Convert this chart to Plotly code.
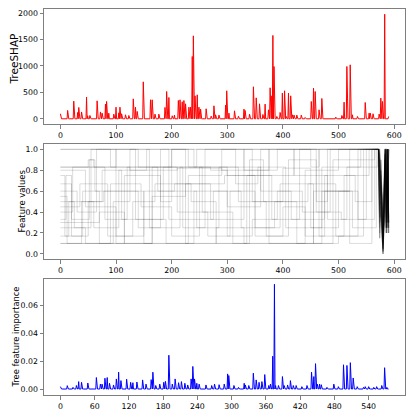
import numpy as np
import plotly.graph_objects as go
from plotly.subplots import make_subplots

# TreeSHAP per sample (zero except at the spikes)
n_shap = 591
shap_idx = [0, 13, 24, 31, 33, 38, 47, 49, 53, 66, 72, 75, 81, 83, 87, 96, 100, 105, 107, 110,
            117, 123, 131, 135, 138, 149, 162, 165, 170, 177, 188, 191, 195, 201, 205, 212, 215,
            219, 222, 225, 231, 234, 237, 239, 242, 246, 249, 252, 262, 271, 276, 279, 285, 297,
            299, 303, 313, 320, 330, 332, 340, 347, 352, 358, 364, 368, 374, 377, 380, 382, 384,
            389, 395, 399, 403, 406, 410, 414, 417, 420, 425, 433, 440, 451, 455, 458, 465, 470,
            495, 506, 510, 515, 521, 525, 534, 548, 555, 557, 562, 573, 576, 579, 583, 590]
shap_val = [95, 158, 334, 120, 215, 130, 410, 57, 63, 340, 130, 107, 278, 328, 107, 88, 220, 113, 220, 95,
            76, 63, 378, 220, 140, 700, 360, 360, 88, 88, 215, 517, 404, 57, 70, 347, 360,
            322, 347, 284, 220, 220, 1180, 1571, 435, 454, 220, 183, 190, 50, 246, 76, 70, 259,
            530, 107, 151, 50, 183, 158, 88, 606, 397, 284, 82, 278, 170, 587, 435, 1578, 990,
            44, 120, 486, 530, 44, 486, 435, 76, 70, 70, 70, 25, 328, 580, 517, 170, 385,
            32, 63, 315, 990, 1022, 76, 44, 309, 107, 107, 95, 88, 391, 328, 1980, 44]

# tree feature importance per feature
n_imp = 576
imp_base = 0.0005
imp_idx = [0, 12, 22, 28, 32, 37, 48, 63, 70, 73, 78, 82, 86, 93, 98, 102, 106, 116, 123, 127,
           134, 144, 150, 159, 162, 167, 174, 181, 184, 190, 196, 201, 207, 212, 218, 223, 229,
           232, 235, 239, 243, 255, 265, 270, 278, 287, 293, 295, 304, 312, 322, 324, 330, 338,
           343, 348, 353, 358, 365, 368, 372, 375, 377, 382, 389, 392, 398, 403, 408, 413, 423,
           432, 440, 444, 447, 450, 454, 457, 467, 479, 487, 496, 502, 508, 513, 520, 531, 534,
           540, 549, 554, 563, 568, 572]
imp_val = [0.0022, 0.0029, 0.0017, 0.003, 0.0058, 0.0053, 0.0048, 0.0087, 0.004, 0.004, 0.0082, 0.0087,
           0.0046, 0.0034, 0.0077, 0.0125, 0.0065, 0.0075, 0.0053, 0.005,
           0.0055, 0.007, 0.004, 0.0072, 0.0125, 0.003, 0.004, 0.0053, 0.006, 0.0246, 0.004, 0.0077,
           0.005, 0.0058, 0.0046, 0.0034, 0.0077, 0.0166, 0.0077, 0.0046, 0.004, 0.0034, 0.003, 0.004,
           0.0036, 0.004, 0.0113, 0.0101, 0.003, 0.0017, 0.0046, 0.0034, 0.003, 0.0118,
           0.007, 0.0053, 0.0058, 0.0108, 0.003, 0.004, 0.0239, 0.0752, 0.003, 0.003, 0.0094, 0.003,
           0.0034, 0.0065, 0.003, 0.003, 0.0022, 0.003, 0.0125, 0.0094, 0.0186, 0.004, 0.004, 0.0036,
           0.0017, 0.004, 0.0022, 0.0178, 0.0173, 0.0193, 0.0084, 0.0022, 0.0017, 0.0022,
           0.0022, 0.0017, 0.0022, 0.003, 0.0157, 0.0017]

# feature values: (start sample, level) steps up to sample 572, then the tail
step_end = 572
tail_x = [574, 576, 578, 580, 582, 584, 586, 588, 590]
feat_steps = [
    [(0, 0.10), (500, 0.17), (535, 1.0)],
    [(0, 1.0), (140, 0.83), (200, 1.0), (330, 0.8), (390, 1.0)],
    [(0, 0.83), (50, 0.9), (60, 0.83), (270, 0.8), (300, 0.75), (420, 1.0), (460, 0.5), (480, 1.0)],
    [(0, 0.5), (25, 0.25), (55, 1.0), (100, 0.1), (115, 0.75), (180, 0.5), (200, 1.0), (225, 0.1),
     (240, 0.6), (300, 0.33), (330, 1.0), (375, 0.1), (440, 0.8), (500, 1.0)],
    [(0, 0.33), (10, 0.75), (20, 0.17), (50, 0.5), (75, 0.8), (110, 0.6), (150, 0.1), (165, 0.83),
     (210, 0.4), (265, 0.17), (305, 0.6), (350, 0.25), (395, 0.67), (455, 0.1), (470, 0.83), (540, 1.0)],
    [(0, 0.6), (30, 0.4), (65, 1.0), (135, 0.33), (190, 0.1), (230, 0.75), (290, 1.0), (345, 0.5),
     (400, 0.82), (450, 0.25), (500, 0.6), (520, 1.0)],
    [(0, 0.75), (8, 0.17), (40, 0.6), (70, 0.1), (95, 0.5), (125, 1.0), (160, 0.25), (215, 0.83),
     (255, 0.4), (310, 0.1), (335, 0.75), (380, 0.33), (430, 1.0), (465, 0.17), (510, 0.75), (555, 1.0)],
    [(0, 0.4), (22, 0.83), (80, 0.33), (120, 0.83), (175, 0.6), (245, 0.25), (285, 0.83), (360, 0.6),
     (415, 0.33), (475, 0.75), (530, 0.5), (560, 1.0)],
    [(0, 0.25), (45, 0.1), (90, 0.67), (145, 0.45), (200, 0.17), (250, 0.83), (320, 0.5), (370, 0.17),
     (410, 0.9), (460, 0.4), (505, 0.33), (550, 1.0)],
    [(0, 0.17), (15, 0.5), (60, 0.25), (105, 0.8), (155, 1.0), (195, 0.33), (275, 0.6), (325, 0.25),
     (385, 0.5), (445, 0.67), (495, 0.17), (545, 1.0)],
    [(0, 0.45), (35, 0.67), (85, 0.17), (130, 0.5), (170, 0.67), (235, 0.5), (280, 0.1), (340, 0.9),
     (365, 0.5), (425, 0.1), (490, 0.9), (565, 1.0)],
    [(0, 0.67), (20, 0.33), (52, 0.9), (62, 0.6), (110, 0.33), (185, 0.83), (220, 0.25), (260, 1.0),
     (315, 0.67), (355, 0.83), (405, 0.25), (470, 0.6), (525, 0.25), (568, 1.0)],
    [(0, 0.8), (45, 0.45), (100, 0.17), (150, 0.6), (205, 0.67), (270, 0.33), (300, 0.17), (345, 0.33),
     (390, 0.6), (435, 0.4), (485, 1.0)],
    [(0, 0.55), (12, 0.1), (38, 0.5), (78, 0.6), (140, 0.25), (180, 1.0), (240, 0.83), (300, 0.45),
     (360, 1.0), (420, 0.75), (480, 0.33), (515, 0.83), (570, 1.0)],
    [(0, 0.1), (280, 0.25), (330, 0.1), (455, 0.6), (520, 0.1), (560, 1.0)],
    [(0, 1.0), (90, 0.83), (100, 1.0), (230, 0.83), (245, 1.0), (450, 0.83), (465, 1.0)],
    [(0, 0.83), (125, 0.8), (210, 0.82), (290, 0.8), (375, 1.0)],
    [(0, 0.3), (70, 0.4), (115, 0.1), (165, 0.55), (225, 0.67), (295, 0.75), (350, 0.17), (400, 0.45),
     (440, 0.17), (475, 0.6), (535, 0.33), (565, 1.0)],
]
feat_tails = [
    [0.95, 0.7, 0.4, 0.05, 0.5, 1.0, 0.25, 1.0, 0.3],
    [0.2, 0.8, 0.5, 0.1, 0.6, 0.95, 1.0, 0.2, 1.0],
    [0.85, 0.55, 0.3, 0.02, 0.35, 0.9, 0.3, 1.0, 0.25],
    [0.6, 0.9, 0.45, 0.15, 0.7, 1.0, 0.2, 0.9, 0.3],
    [0.15, 0.5, 0.25, 0.0, 0.45, 1.0, 1.0, 0.3, 1.0],
    [0.9, 0.75, 0.55, 0.2, 0.3, 0.85, 0.25, 1.0, 0.2],
    [0.4, 0.65, 0.35, 0.05, 0.55, 1.0, 0.3, 1.0, 0.35],
    [1.0, 0.85, 0.6, 0.25, 0.5, 0.95, 0.2, 1.0, 0.25],
    [0.3, 0.45, 0.2, 0.03, 0.4, 0.9, 1.0, 0.25, 1.0],
    [0.75, 0.6, 0.4, 0.1, 0.65, 1.0, 0.25, 1.0, 0.3],
    [0.15, 0.7, 0.5, 0.12, 0.45, 0.9, 0.35, 1.0, 0.2],
    [0.9, 0.5, 0.3, 0.0, 0.35, 1.0, 0.2, 1.0, 0.3],
    [0.55, 0.8, 0.25, 0.05, 0.6, 0.95, 1.0, 0.3, 1.0],
    [0.25, 0.6, 0.45, 0.08, 0.5, 1.0, 0.25, 1.0, 0.25],
    [0.7, 0.9, 0.35, 0.15, 0.3, 0.9, 0.2, 1.0, 0.3],
    [0.35, 0.4, 0.2, 0.02, 0.55, 1.0, 0.3, 1.0, 0.2],
    [0.8, 0.65, 0.55, 0.2, 0.7, 1.0, 1.0, 0.25, 1.0],
    [0.45, 0.75, 0.3, 0.0, 0.4, 0.95, 0.25, 1.0, 0.35],
]

font = "DejaVu Sans"
axis_col = "#7f7f7f"

fig = make_subplots(rows=3, cols=1, vertical_spacing=0.05)

shap_y = np.zeros(n_shap)
shap_y[shap_idx] = shap_val
fig.add_trace(go.Scatter(x=np.arange(n_shap), y=shap_y, mode="lines",
                         line=dict(color="red", width=1)), row=1, col=1)

for steps, tail in zip(feat_steps, feat_tails):
    xs = [s[0] for s in steps] + [step_end]
    ys = [s[1] for s in steps] + [steps[-1][1]]
    fig.add_trace(go.Scatter(x=xs, y=ys, mode="lines", line_shape="hv",
                             line=dict(color="rgba(0,0,0,0.14)", width=1)), row=2, col=1)
    fig.add_trace(go.Scatter(x=[step_end] + tail_x, y=[steps[-1][1]] + tail, mode="lines",
                             line=dict(color="rgba(0,0,0,0.22)", width=1.2)), row=2, col=1)

imp_y = np.full(n_imp, imp_base)
imp_y[imp_idx] = imp_val
fig.add_trace(go.Scatter(x=np.arange(n_imp), y=imp_y, mode="lines",
                         line=dict(color="blue", width=1)), row=3, col=1)

axis_common = dict(showline=True, linewidth=1, linecolor=axis_col, mirror=True, automargin=False,
                   ticks="outside", ticklen=3.5, tickwidth=1, tickcolor=axis_col,
                   showgrid=False, zeroline=False, tickfont=dict(size=7.8, color="black"))

fig.update_layout(
    width=415, height=415, showlegend=False,
    margin=dict(l=44, r=10, t=9, b=20),
    paper_bgcolor="white", plot_bgcolor="white",
    font=dict(family=font, color="black"),
    xaxis=dict(domain=[0, 1], range=[-29.5, 619.5], tickvals=[0, 100, 200, 300, 400, 500, 600], **axis_common),
    xaxis2=dict(domain=[0, 1], range=[-29.5, 619.5], tickvals=[0, 100, 200, 300, 400, 500, 600], **axis_common),
    xaxis3=dict(domain=[0, 1], range=[-28.75, 603.75], tickvals=[0, 60, 120, 180, 240, 300, 360, 420, 480, 540],
                **axis_common),
    yaxis=dict(domain=[0.702, 1.0], range=[-99, 2079], tickvals=[0, 500, 1000, 1500, 2000], **axis_common),
    yaxis2=dict(domain=[0.352, 0.650], range=[-0.05, 1.05], tickvals=[0, 0.2, 0.4, 0.6, 0.8, 1.0],
                tickformat=".1f", **axis_common),
    yaxis3=dict(domain=[0, 0.3005], range=[-0.00376, 0.07896], tickvals=[0, 0.02, 0.04, 0.06],
                tickformat=".2f", **axis_common),
)

# y titles as rotated annotations, placed in pixels from the left edge of the page
plot_w = 415 - 44 - 10
plot_h = 415 - 9 - 20
for text, px_x, px_y, size in [("TreeSHAP", 13, 59.5, 10.5),
                               ("Feature values", 21, 201.5, 8.5),
                               ("Tree feature importance", 15, 337.5, 8.3)]:
    fig.add_annotation(text=text, textangle=-90, showarrow=False,
                       xref="paper", yref="paper",
                       x=(px_x - 44) / plot_w, y=(415 - 20 - px_y) / plot_h,
                       xanchor="center", yanchor="middle",
                       font=dict(size=size, family=font, color="black"))

# page body has a default margin, drop it so the figure sits at 0,0
fig.write_html("out.html", post_script="document.body.style.margin='0';",
               config={"displayModeBar": False})
